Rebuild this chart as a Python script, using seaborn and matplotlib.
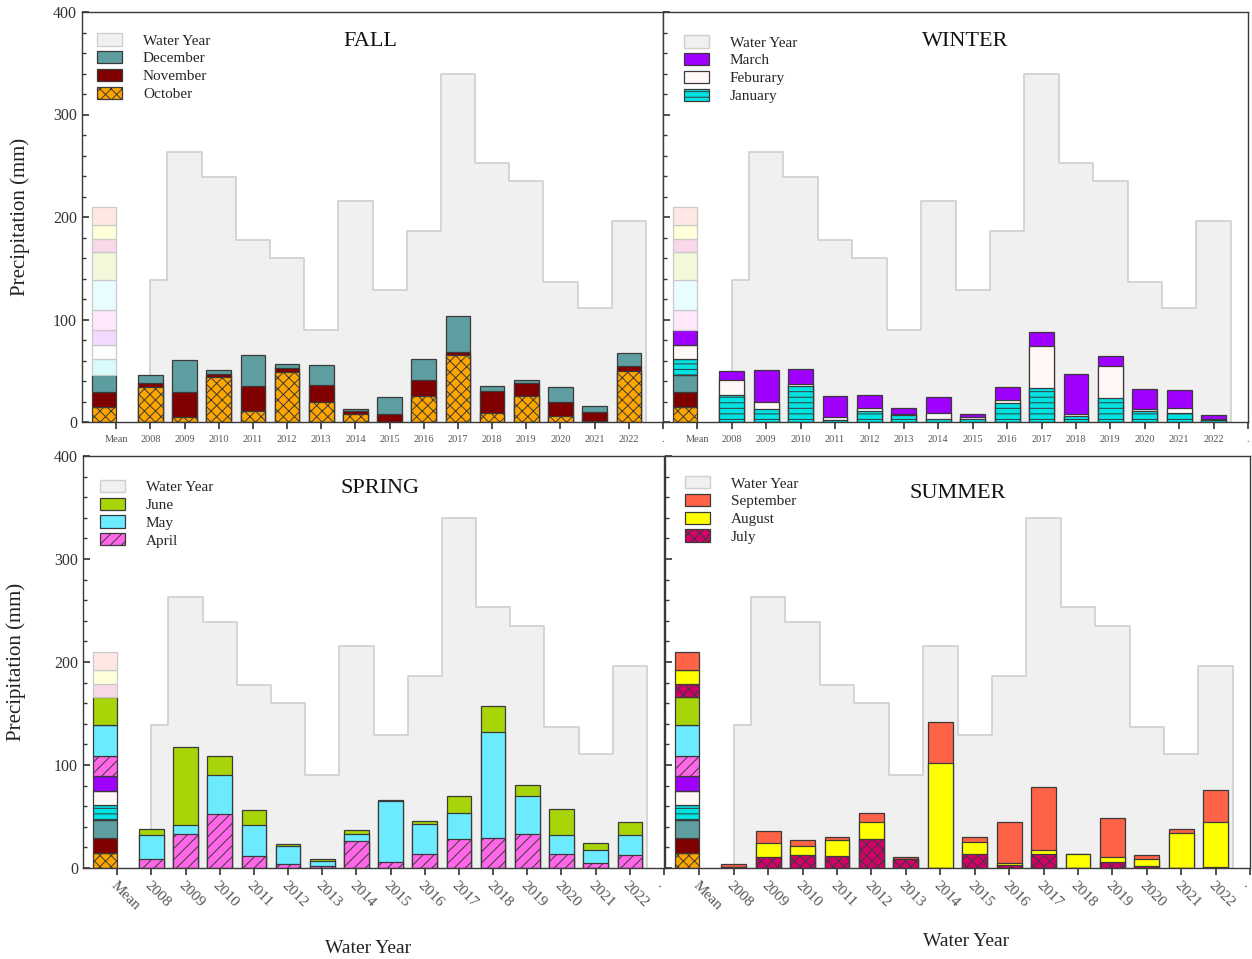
import numpy as np
import pandas as pd
import matplotlib
matplotlib.use("Agg")
import matplotlib.pyplot as plt
import seaborn as sns
from matplotlib.patches import Patch
from matplotlib.ticker import MultipleLocator
from matplotlib.colors import to_rgb

# ---------------- data ----------------
years = [str(y) for y in range(2008, 2023)]
tick_labels = ["Mean"] + years + ["."]

water_year = [139, 263, 239, 178, 160, 90, 216, 129, 186, 340, 253, 235, 137, 111, 196]

oct_vals = [34, 5, 43.5, 10.5, 49, 20, 8, 0, 25, 65, 8.5, 25.5, 6, 0.5, 50]
nov_vals = [4, 24, 3, 25, 3.5, 16, 3, 8, 16, 3.5, 22, 13, 14, 9.5, 5]
dec_vals = [8, 31.5, 4, 30, 4, 20, 1.5, 16, 20.5, 35, 4.5, 2, 14.5, 6, 12]
jan_vals = [26.5, 12.5, 35, 2, 10.5, 7, 3, 3, 19, 33, 6, 23.5, 10.5, 9, 2]
feb_vals = [14.5, 7, 2, 3, 3.5, 0.7, 5.5, 2.3, 2.5, 41, 1.5, 31, 2, 4.7, 0.5]
mar_vals = [9, 31, 15, 20, 12, 6, 16, 2.6, 12.5, 14, 39.5, 10, 19.5, 18, 4.3]
apr_vals = [8.5, 33, 52, 11.5, 4, 2, 26, 6, 14, 28, 29, 33, 14, 5, 13]
may_vals = [24, 9, 38, 30, 17, 4.5, 7, 59.5, 28.5, 25, 103, 37, 18, 12, 19.5]
jun_vals = [5, 75, 19, 14.5, 2.5, 2.5, 3.5, 0.3, 3, 17, 25.5, 10.5, 25, 7, 12.5]
jul_vals = [1, 10.5, 13, 11.5, 28.5, 8.7, 0, 14, 3, 14, 0, 6, 2, 0, 0.8]
aug_vals = [0.3, 14, 8, 16, 16, 0.3, 101.5, 11.5, 2, 3, 13.6, 5, 7, 34, 43.5]
sep_vals = [2.6, 11.5, 6.5, 2.5, 9, 1.4, 40, 5, 40, 61.5, 0, 38, 4, 3.5, 31.7]

# long-term monthly means (Oct..Sep), stacked in the "Mean" bar
mean_vals = [14.7, 14.5, 17.0, 15.3, 13.3, 15.0, 19.4, 29.7, 26.8, 13.0, 13.5, 17.1]

month_names = ["October", "November", "December", "January", "Feburary", "March",
               "April", "May", "June", "July", "August", "September"]
month_series = [oct_vals, nov_vals, dec_vals, jan_vals, feb_vals, mar_vals,
                apr_vals, may_vals, jun_vals, jul_vals, aug_vals, sep_vals]
month_colors = ["#FFA500", "#800000", "#5F9EA0", "#00E3E3", "#FFF8F6", "#A000FF",
                "#FF66E8", "#6CEBFF", "#A8D508", "#D4006A", "#FFFF00", "#FF6347"]
month_hatches = ["xxx", None, None, "---", None, None,
                 "///", None, None, "xxx", None, None]

seasons = ["FALL", "WINTER", "SPRING", "SUMMER"]
season_months = [[0, 1, 2], [3, 4, 5], [6, 7, 8], [9, 10, 11]]

# ---------------- style ----------------
sns.set_theme(style="ticks")
plt.rcParams["font.family"] = ["Liberation Serif", "DejaVu Serif"]
plt.rcParams["hatch.linewidth"] = 0.7
plt.rcParams["axes.linewidth"] = 1.0

EDGE = "#3a3a3a"
STEP_FILL = "#f0f0f0"
STEP_EDGE = "#d2d2d2"


def faded(c, a=0.15):
    r = np.array(to_rgb(c))
    return tuple(a * r + (1 - a) * np.ones(3))


fig = plt.figure(figsize=(12.52, 9.59), dpi=100)
W, H = 1252, 959
rects = [
    [82 / W, 1 - 422 / H, 581 / W, 410 / H],
    [663 / W, 1 - 422 / H, 585 / W, 410 / H],
    [83 / W, 1 - 868 / H, 581 / W, 412 / H],
    [665 / W, 1 - 868 / H, 585 / W, 412 / H],
]
title_pos = [(0.497, 0.928), (0.516, 0.927), (0.511, 0.92), (0.50, 0.91)]
legend_anchor = [(0.026, 0.948), (0.036, 0.943), (0.029, 0.942), (0.034, 0.951)]

pos = np.arange(1, len(years) + 1)

for k, rect in enumerate(rects):
    ax = fig.add_axes(rect)
    season = seasons[k]
    seg = season_months[k]
    nfull = seg[-1] + 1

    # water year step background
    xe = np.r_[pos[0], pos + 0.5]
    ye = np.r_[water_year, water_year[-1]]
    ax.fill_between(xe, ye, step="post", color=STEP_FILL, lw=0, zorder=0.5)
    ax.step(xe, ye, where="post", color=STEP_EDGE, lw=1.3, zorder=0.6)
    ax.vlines([xe[0], xe[-1]], 0, [ye[0], ye[-1]], color=STEP_EDGE, lw=1.3, zorder=0.6)

    # stacked yearly bars (drawn as cumulative overlays)
    cum = np.zeros(len(years))
    cums = []
    for m in seg:
        cum = cum + np.array(month_series[m])
        cums.append(cum.copy())
    for m, c in reversed(list(zip(seg, cums))):
        df = pd.DataFrame({"pos": pos, "value": c})
        sns.barplot(data=df, x="pos", y="value", native_scale=True, width=0.72,
                    color=month_colors[m], saturation=1, edgecolor=EDGE,
                    linewidth=0.9, hatch=month_hatches[m], errorbar=None,
                    legend=False, ax=ax, zorder=2)

    # Mean bar (right edge on the Mean tick)
    bottom = 0.0
    for i in range(12):
        full = i < nfull
        ax.bar(0, mean_vals[i], width=-0.72, align="edge", bottom=bottom,
               color=month_colors[i] if full else faded(month_colors[i]),
               edgecolor=EDGE if full else "#c9c9c9", linewidth=0.9,
               hatch=month_hatches[i] if full else None, zorder=2)
        bottom += mean_vals[i]

    # axes formatting
    ax.set_xlim(-1, 16)
    ax.set_ylim(0, 400)
    ax.set_xlabel("")
    ax.set_ylabel("")
    ax.set_xticks(range(len(tick_labels)))
    ax.set_xticklabels(tick_labels)
    ax.yaxis.set_major_locator(MultipleLocator(100))
    ax.yaxis.set_minor_locator(MultipleLocator(20))
    for sp in ax.spines.values():
        sp.set_visible(True)
        sp.set_color(EDGE)
        sp.set_linewidth(1.0)
    ax.tick_params(axis="y", which="major", direction="in", length=5, color=EDGE,
                   labelsize=11.5, labelcolor="#333333", left=True, right=False)
    ax.tick_params(axis="y", which="minor", direction="in", length=3, color=EDGE,
                   left=True, right=False)
    ax.tick_params(axis="x", which="major", direction="out", length=5, color=EDGE,
                   labelcolor="#555555", top=False)
    ax.tick_params(axis="x", which="minor", bottom=False, top=False)

    if k in (1, 3):
        ax.tick_params(axis="y", labelleft=False)
    else:
        ax.set_ylabel("Precipitation (mm)", fontsize=15, color="#222222")
        ax.yaxis.set_label_coords(-0.089 if k == 0 else -0.098, 0.5)

    if k < 2:
        ax.tick_params(axis="x", labelsize=7.5, pad=4)
    else:
        ax.tick_params(axis="x", labelsize=11, pad=3)
        for lab in ax.get_xticklabels():
            lab.set_rotation(-45)
            lab.set_ha("left")
            lab.set_va("top")
            lab.set_rotation_mode("anchor")
        xl = (0.49, -0.196) if k == 2 else (0.515, -0.179)
        ax.text(xl[0], xl[1], "Water Year", transform=ax.transAxes, ha="center",
                va="center", fontsize=14, color="#222222")

    # title
    ax.text(title_pos[k][0], title_pos[k][1], season, transform=ax.transAxes,
            ha="center", va="center", fontsize=16, color="#111111")

    # legend
    handles = [Patch(facecolor=STEP_FILL, edgecolor="#cfcfcf", linewidth=1.0,
                     label="Water Year")]
    for m in reversed(seg):
        handles.append(Patch(facecolor=month_colors[m], edgecolor=EDGE,
                             linewidth=0.9, hatch=month_hatches[m],
                             label=month_names[m]))
    ax.legend(handles=handles, loc="upper left", bbox_to_anchor=legend_anchor[k],
              frameon=False, fontsize=11, handlelength=1.65, handleheight=0.85,
              labelspacing=0.22, handletextpad=1.35, borderaxespad=0, borderpad=0)

fig.savefig("out.png", dpi=100)
